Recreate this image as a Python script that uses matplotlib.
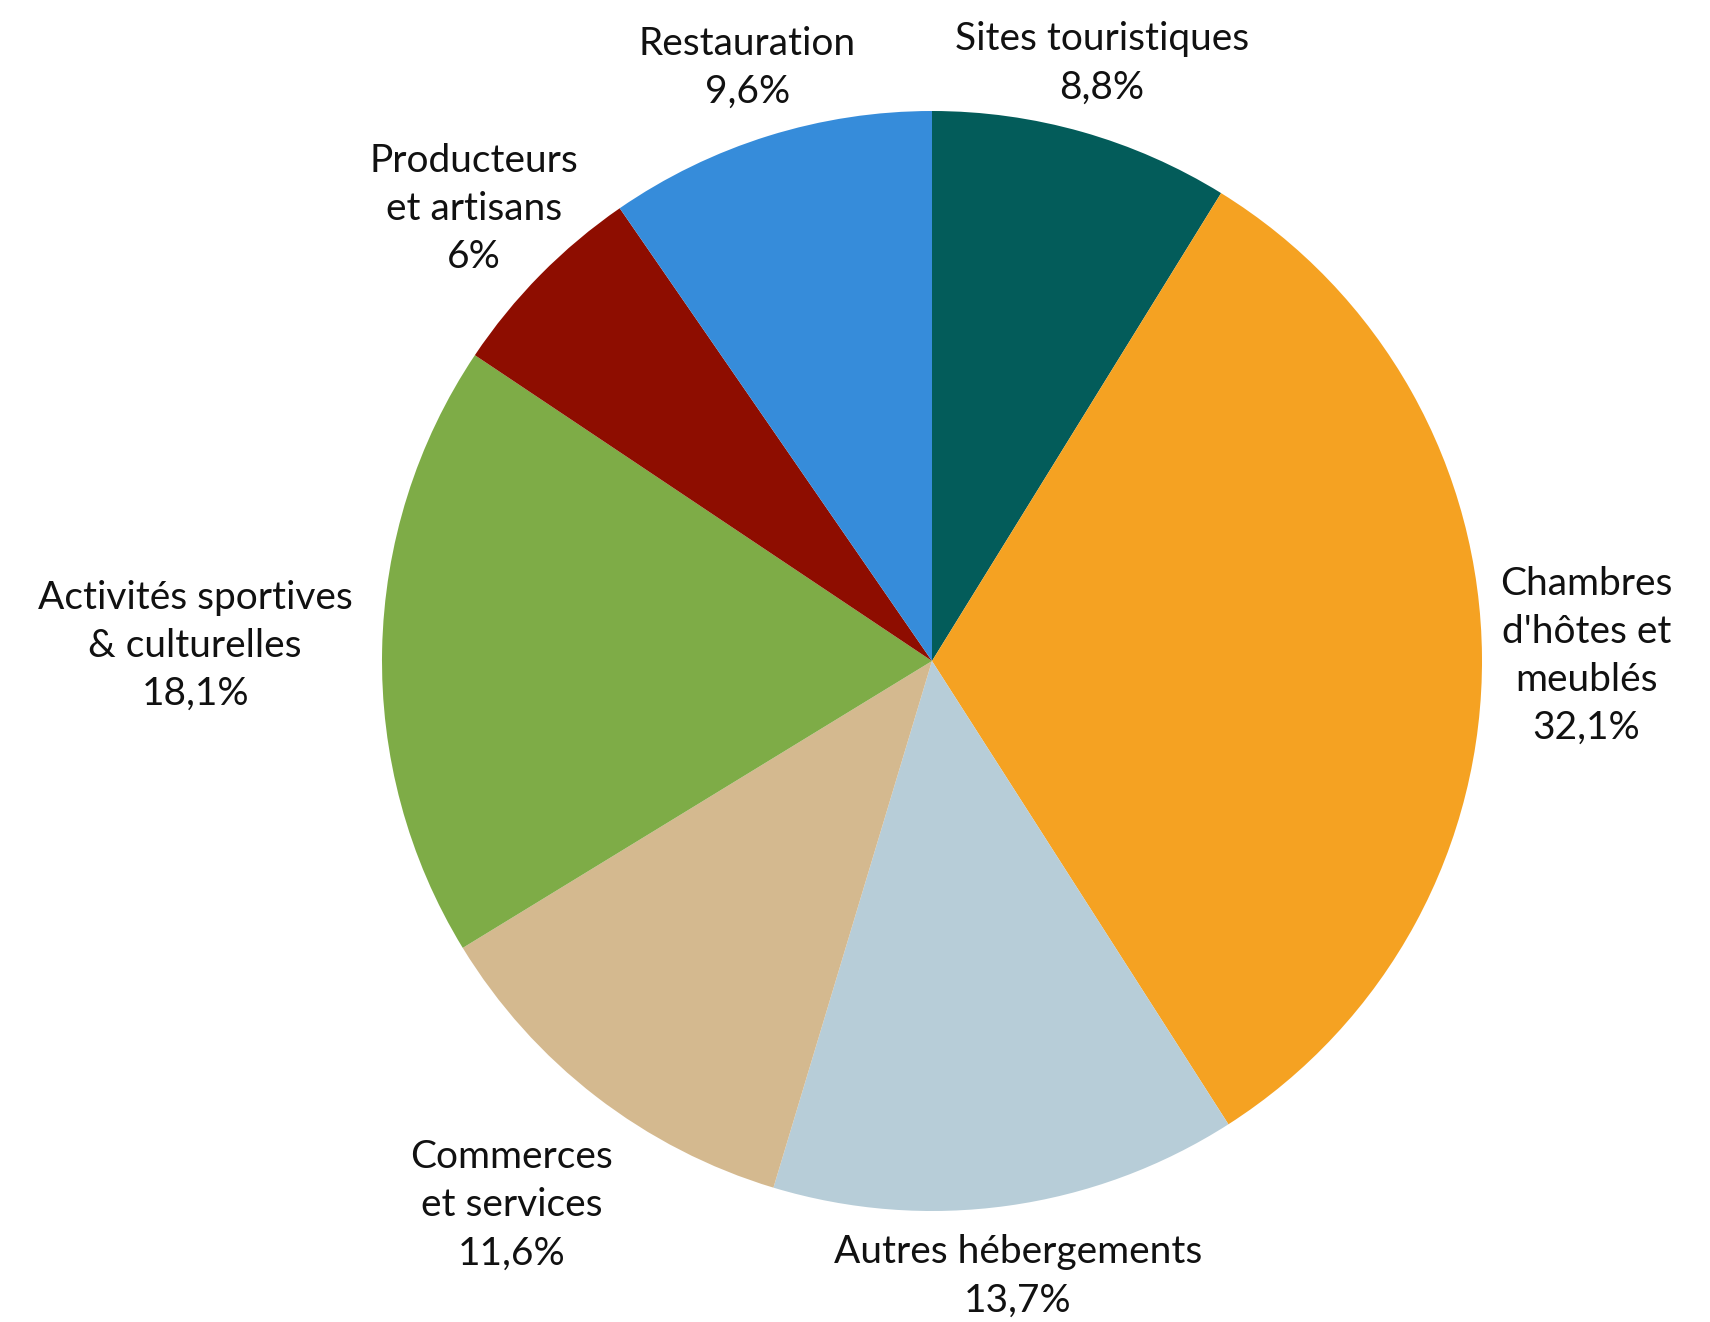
import numpy as np
import matplotlib
matplotlib.use("Agg")
import matplotlib.pyplot as plt

plt.rcParams['font.family'] = ['Lato', 'DejaVu Sans']

labels = ["Sites touristiques", "Chambres\nd'hôtes et\nmeublés", "Autres hébergements",
          "Commerces\net services", "Activités sportives\n& culturelles",
          "Producteurs\net artisans", "Restauration"]
pct_text = ["8,8%", "32,1%", "13,7%", "11,6%", "18,1%", "6%", "9,6%"]
values = [8.8, 32.1, 13.7, 11.6, 18.1, 6.0, 9.6]
colors = ["#035c5a", "#f5a222", "#b7cdd8", "#d4b98f", "#7eac47", "#8e0d00", "#368cda"]
# distance of each label centre from the pie centre (in radii)
label_dist = [1.13, 1.19, 1.13, 1.25, 1.34, 1.17, 1.13]

W, H = 1710, 1322
cx, cy, R = 932, 661, 550
fig = plt.figure(figsize=(W / 100, H / 100), dpi=100)
ax = fig.add_axes([(cx - R) / W, (H - cy - R) / H, 2 * R / W, 2 * R / H])

wedges, _ = ax.pie(values, colors=colors, startangle=90, counterclock=False,
                   wedgeprops=dict(linewidth=0))
ax.set_xlim(-1, 1)
ax.set_ylim(-1, 1)

for w, lab, p, d in zip(wedges, labels, pct_text, label_dist):
    ang = np.deg2rad((w.theta1 + w.theta2) / 2)
    ax.text(d * np.cos(ang), d * np.sin(ang), lab + "\n" + p, ha="center", va="center",
            fontsize=28, color="#111111", linespacing=1.42, clip_on=False)

fig.savefig("out.png", dpi=100, facecolor="white")
